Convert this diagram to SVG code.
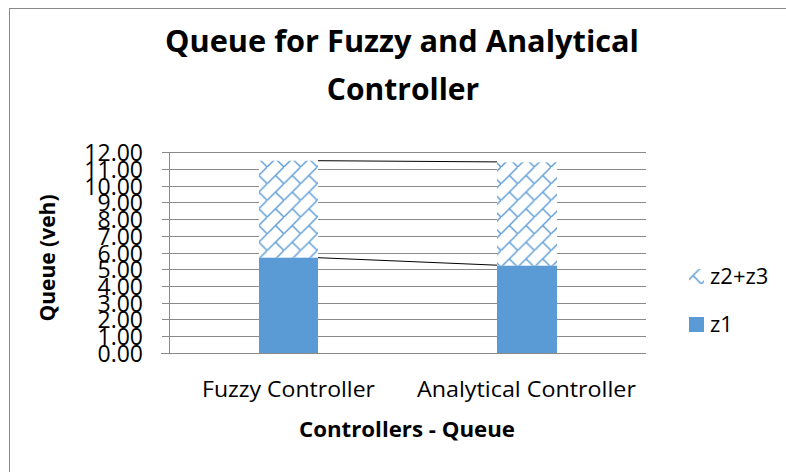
<svg xmlns="http://www.w3.org/2000/svg" width="786" height="472" viewBox="0 0 786 472">
  <defs>
    <pattern id="brick" patternUnits="userSpaceOnUse" x="0" y="0" width="16.7" height="16.7">
      <rect width="16.7" height="16.7" fill="#ffffff"/>
      <path d="M-2,18.7 L18.7,-2 M8.35,8.35 L18.7,18.7 M-8.35,8.35 L0,16.7" fill="none" stroke="#5B9BD5" stroke-width="1.4"/>
    </pattern>
    <style>
      .grid { stroke: #8a8a8a; stroke-width: 1; fill: none; }
      .axis { stroke: #8a8a8a; stroke-width: 1; fill: none; }
      .tick { font-family: "Open Sans", "Liberation Sans", sans-serif; font-size: 23px; fill: #000; text-anchor: end; }
      .cat { font-family: "Open Sans", "Liberation Sans", sans-serif; font-size: 22.6px; fill: #000; text-anchor: middle; }
      .title { font-family: "Open Sans", "Liberation Sans", sans-serif; font-size: 30px; font-weight: bold; fill: #000; text-anchor: middle; }
      .axtitle { font-family: "Open Sans", "Liberation Sans", sans-serif; font-size: 21.5px; font-weight: bold; fill: #000; text-anchor: middle; }
      .leg { font-family: "Open Sans", "Liberation Sans", sans-serif; font-size: 22px; fill: #000; }
      .solid { fill: #5B9BD5; }
      .hatch { fill: url(#brick); }
      .series { stroke: #000; stroke-width: 1; fill: none; }
    </style>
  </defs>

  <rect x="0" y="0" width="786" height="472" fill="#ffffff"/>
  <rect x="9.5" y="8.5" width="800" height="500" fill="none" stroke="#8a8a8a" stroke-width="1"/>

  <g id="title">
    <text class="title" x="402" y="52" textLength="474" lengthAdjust="spacingAndGlyphs">Queue for Fuzzy and Analytical</text>
    <text class="title" x="403" y="100">Controller</text>
  </g>

  <g id="gridlines">
    <path class="grid" d="M162,336.5H646 M162,319.5H646 M162,303.5H646 M162,286.5H646 M162,269.5H646 M162,253.5H646 M162,236.5H646 M162,219.5H646 M162,202.5H646 M162,186.5H646 M162,169.5H646 M162,152.5H646"/>
  </g>

  <g id="y-axis">
    <path class="axis" d="M169.5,152.5V353.5"/>
    <text class="tick" x="143" y="361.5">0.00</text>
    <text class="tick" x="143" y="344.5">1.00</text>
    <text class="tick" x="143" y="327.5">2.00</text>
    <text class="tick" x="143" y="311.5">3.00</text>
    <text class="tick" x="143" y="294.5">4.00</text>
    <text class="tick" x="143" y="277.5">5.00</text>
    <text class="tick" x="143" y="261.5">6.00</text>
    <text class="tick" x="143" y="244.5">7.00</text>
    <text class="tick" x="143" y="227.5">8.00</text>
    <text class="tick" x="143" y="210.5">9.00</text>
    <text class="tick" x="143" y="194.5">10.00</text>
    <text class="tick" x="143" y="177.5">11.00</text>
    <text class="tick" x="143" y="160.5">12.00</text>
    <text class="axtitle" transform="translate(55,258) rotate(-90)" textLength="127" lengthAdjust="spacingAndGlyphs">Queue (veh)</text>
  </g>

  <g id="bar-fuzzy">
    <rect class="hatch" x="259" y="160.7" width="59" height="97"/>
    <rect class="solid" x="259" y="257.7" width="59" height="95.8"/>
  </g>

  <g id="bar-analytical">
    <rect class="hatch" x="497" y="162.3" width="60" height="103.4"/>
    <rect class="solid" x="497" y="265.7" width="60" height="87.8"/>
  </g>

  <g id="connectors">
    <line class="series" x1="318" y1="160.7" x2="497" y2="161.9"/>
    <line class="series" x1="318" y1="257.7" x2="497" y2="265.2"/>
  </g>

  <g id="x-axis">
    <path class="axis" d="M161,353.5H646"/>
    <text class="cat" x="288.5" y="397" textLength="173" lengthAdjust="spacingAndGlyphs">Fuzzy Controller</text>
    <text class="cat" x="526.5" y="397" textLength="219" lengthAdjust="spacingAndGlyphs">Analytical Controller</text>
    <text class="axtitle" x="407" y="436.5" textLength="216" lengthAdjust="spacingAndGlyphs">Controllers - Queue</text>
  </g>

  <g id="legend">
    <g id="legend-z2z3">
      <rect class="hatch" x="689" y="269" width="15" height="15"/>
      <text class="leg" x="710" y="284">z2+z3</text>
    </g>
    <g id="legend-z1">
      <rect class="solid" x="689" y="317" width="15" height="15"/>
      <text class="leg" x="710" y="332">z1</text>
    </g>
  </g>
</svg>
